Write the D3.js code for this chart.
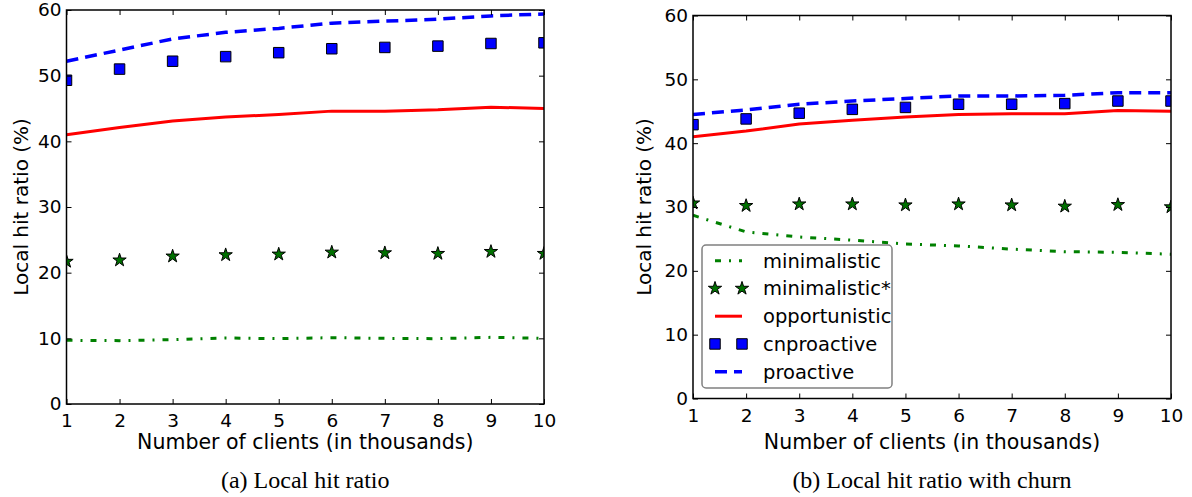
<!DOCTYPE html>
<html>
<head>
<meta charset="utf-8">
<script src="https://cdn.jsdelivr.net/npm/d3@7"></script>
<style>
  body { margin: 0; background: #fff; }
  svg { display: block; }
  .tick text { font-family: 'DejaVu Sans', sans-serif; font-size: 18.5px; fill: #000; }
  .tick line { stroke: #000; stroke-width: 1; }
  .domain { display: none; }
</style>
</head>
<body>
<div id="chart"></div>
<script>
(() => {
'use strict';

const WIDTH = 1192;
const HEIGHT = 497;

// clients, in thousands
const clients = [1, 2, 3, 4, 5, 6, 7, 8, 9, 10];
const yTicks = [0, 10, 20, 30, 40, 50, 60];

// (a) local hit ratio
const aMinimalistic = [9.7, 9.65, 9.8, 10.05, 9.95, 10.1, 10.0, 9.95, 10.15, 10.0];
const aMinimalisticStar = [21.7, 21.9, 22.5, 22.7, 22.8, 23.1, 23.0, 22.9, 23.2, 22.9];
const aOpportunistic = [41.0, 42.1, 43.1, 43.7, 44.1, 44.6, 44.6, 44.8, 45.2, 45.0];
const aCnproactive = [49.3, 51.0, 52.2, 52.9, 53.5, 54.1, 54.3, 54.5, 54.9, 55.0];
const aProactive = [52.2, 53.9, 55.6, 56.6, 57.2, 58.0, 58.3, 58.6, 59.1, 59.4];

// (b) local hit ratio with churn
const bMinimalistic = [28.7, 26.1, 25.3, 24.8, 24.2, 23.9, 23.4, 23.0, 22.9, 22.6];
const bMinimalisticStar = [30.6, 30.2, 30.45, 30.45, 30.3, 30.45, 30.3, 30.1, 30.35, 30.0];
const bOpportunistic = [41.0, 41.9, 43.0, 43.6, 44.1, 44.5, 44.6, 44.6, 45.1, 45.0];
const bCnproactive = [42.9, 43.8, 44.7, 45.3, 45.6, 46.1, 46.1, 46.2, 46.6, 46.6];
const bProactive = [44.5, 45.2, 46.1, 46.6, 47.0, 47.4, 47.4, 47.5, 47.9, 47.9];

const seriesNames = ['minimalistic', 'minimalistic*', 'opportunistic', 'cnproactive', 'proactive'];

const STYLES = {
  'minimalistic': { kind: 'line', color: '#008000', width: 3, dash: '6,8,2,8' },
  'minimalistic*': { kind: 'star', color: '#007000' },
  'opportunistic': { kind: 'line', color: '#ff0000', width: 3, dash: null },
  'cnproactive': { kind: 'square', color: '#0000ff' },
  'proactive': { kind: 'line', color: '#0000ff', width: 3.5, dash: '12,7' }
};

const svg = d3.select('#chart')
  .append('svg')
  .attr('width', WIDTH)
  .attr('height', HEIGHT);

const starPath = d3.symbol().type(d3.symbolStar).size(55)();
const squarePath = d3.symbol().type(d3.symbolSquare).size(110)();

const drawMarks = (g, name, pts) => {
  const st = STYLES[name];
  if (st.kind === 'line') {
    g.append('path')
      .datum(pts)
      .attr('fill', 'none')
      .attr('stroke', st.color)
      .attr('stroke-width', st.width)
      .attr('stroke-dasharray', st.dash)
      .attr('d', d3.line().x(d => d[0]).y(d => d[1]));
  } else {
    g.selectAll(null)
      .data(pts)
      .enter()
      .append('path')
        .attr('transform', d => `translate(${d[0]},${d[1]})`)
        .attr('d', st.kind === 'star' ? starPath : squarePath)
        .attr('fill', st.color)
        .attr('stroke', '#000')
        .attr('stroke-width', 1);
  }
};

const drawPanel = (p) => {
  const x = d3.scaleLinear().domain([1, 10]).range([p.left, p.right]);
  const y = d3.scaleLinear().domain([0, 60]).range([p.bottom, p.top]);

  const root = svg.append('g');
  root.append('clipPath')
    .attr('id', `clip-${p.id}`)
    .append('rect')
      .attr('x', p.left)
      .attr('y', p.top)
      .attr('width', p.right - p.left)
      .attr('height', p.bottom - p.top);

  const plot = root.append('g').attr('clip-path', `url(#clip-${p.id})`);
  seriesNames.forEach((name, i) => {
    const pts = clients.map((c, j) => [x(c), y(p.data[i][j])]);
    drawMarks(plot, name, pts);
  });

  // axes with inward ticks on all four sides
  root.append('g')
    .attr('transform', `translate(0,${p.bottom})`)
    .call(d3.axisBottom(x).tickValues(clients).tickFormat(d3.format('d')).tickSize(-5).tickPadding(10));
  root.append('g')
    .attr('transform', `translate(0,${p.top})`)
    .call(d3.axisTop(x).tickValues(clients).tickFormat('').tickSize(-5));
  root.append('g')
    .attr('transform', `translate(${p.left},0)`)
    .call(d3.axisLeft(y).tickValues(yTicks).tickSize(-5).tickPadding(5));
  root.append('g')
    .attr('transform', `translate(${p.right},0)`)
    .call(d3.axisRight(y).tickValues(yTicks).tickFormat('').tickSize(-5));

  root.append('rect')
    .attr('x', p.left)
    .attr('y', p.top)
    .attr('width', p.right - p.left)
    .attr('height', p.bottom - p.top)
    .attr('fill', 'none')
    .attr('stroke', '#000')
    .attr('stroke-width', 1.5);

  root.append('text')
    .attr('transform', `translate(${p.yLabelX},${(p.top + p.bottom) / 2}) rotate(-90)`)
    .attr('text-anchor', 'middle')
    .style('font-family', 'DejaVu Sans, sans-serif')
    .style('font-size', '20px')
    .text('Local hit ratio (%)');

  root.append('text')
    .attr('x', (p.left + p.right) / 2)
    .attr('y', 449)
    .attr('text-anchor', 'middle')
    .style('font-family', 'DejaVu Sans, sans-serif')
    .style('font-size', '20.5px')
    .text('Number of clients (in thousands)');

  root.append('text')
    .attr('x', (p.left + p.right) / 2)
    .attr('y', 488)
    .attr('text-anchor', 'middle')
    .style('font-family', 'Liberation Serif, serif')
    .style('font-size', '24px')
    .text(p.caption);

  if (p.legend) {
    const lg = root.append('g').attr('transform', `translate(${p.legend.x},${p.legend.y})`);
    lg.append('rect')
      .attr('width', 190)
      .attr('height', 143)
      .attr('rx', 4)
      .attr('fill', '#fff')
      .attr('stroke', '#808080')
      .attr('stroke-width', 1.5);
    seriesNames.forEach((name, i) => {
      const row = lg.append('g').attr('transform', `translate(0,${15.7 + i * 27.75})`);
      drawMarks(row, name, [[13, 0], [40, 0]]);
      row.append('text')
        .attr('x', 61)
        .attr('y', 7)
        .style('font-family', 'DejaVu Sans, sans-serif')
        .style('font-size', '19.5px')
        .text(name);
    });
  }
};

drawPanel({
  id: 'a', left: 66.5, right: 544, top: 10, bottom: 404, yLabelX: 28,
  data: [aMinimalistic, aMinimalisticStar, aOpportunistic, aCnproactive, aProactive],
  caption: '(a) Local hit ratio'
});

drawPanel({
  id: 'b', left: 693, right: 1171, top: 15.5, bottom: 398.5, yLabelX: 651,
  data: [bMinimalistic, bMinimalisticStar, bOpportunistic, bCnproactive, bProactive],
  caption: '(b) Local hit ratio with churn',
  legend: { x: 702, y: 245 }
});

})();
</script>
</body>
</html>
